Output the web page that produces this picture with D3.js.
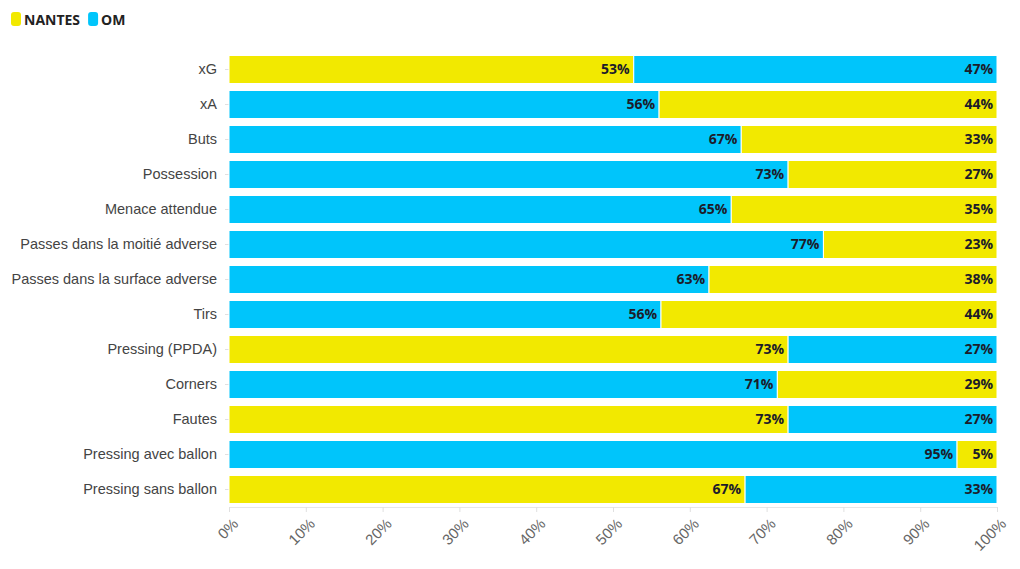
<!DOCTYPE html>
<html><head><meta charset="utf-8">
<script src="https://cdn.jsdelivr.net/npm/d3@7"></script>
<style>
body{margin:0;background:#fff;}
svg{display:block;font-family:"Open Sans","Noto Sans",sans-serif;}
</style></head>
<body><svg id="c" width="1020" height="569"></svg>
<script>
const categories = ["xG","xA","Buts","Possession","Menace attendue","Passes dans la moitié adverse","Passes dans la surface adverse","Tirs","Pressing (PPDA)","Corners","Fautes","Pressing avec ballon","Pressing sans ballon"];
const nantes = [52.7,44,33.3,27.2,34.6,22.6,37.5,43.75,72.8,28.6,72.8,5.2,67.2];
const om     = [47.3,56,66.7,72.8,65.4,77.4,62.5,56.25,27.2,71.4,27.2,94.8,32.8];
const teams = ["NANTES","OM"];
const ticks = [0,10,20,30,40,50,60,70,80,90,100];

const colors = {NANTES:"#f2e900", OM:"#00c5fb"};
const svg = d3.select("#c");
const x = d3.scaleLinear().domain([0,100]).range([229,997]);
const y = d3.scaleBand().domain(categories).range([52,507]).paddingInner(0.2).paddingOuter(0.1);

// axis baseline
svg.append("line").attr("x1",x(0)).attr("x2",x(100)).attr("y1",507.5).attr("y2",507.5).attr("stroke","#e6e6e6");
const xa = svg.append("g").attr("transform","translate(0,507)")
  .call(d3.axisBottom(x).tickValues(ticks).tickFormat(d=>d+"%").tickSize(5).tickSizeOuter(0));
xa.select(".domain").remove();
xa.selectAll(".tick line").attr("stroke","#e0e0e0");
xa.selectAll(".tick text").attr("fill","#666").style("font-size","15px")
  .attr("text-anchor","end").attr("x",0).attr("y",0).attr("dy","0.35em")
  .attr("transform","translate(6,14) rotate(-45)");

// y axis labels
const ya = svg.append("g").attr("transform","translate(229,0)")
  .call(d3.axisLeft(y).tickSize(4).tickPadding(8));
ya.select(".domain").remove();
ya.selectAll(".tick line").attr("stroke","#e0e0e0");
ya.selectAll(".tick text").attr("fill","#444").style("font-size","14.5px");

// bars
categories.forEach((c,i)=>{
  const vals = [{team:"NANTES",v:nantes[i]},{team:"OM",v:om[i]}];
  vals.sort((a,b)=>b.v-a.v);
  let acc = 0;
  vals.forEach(s=>{
    const x0 = x(acc), x1 = x(acc+s.v);
    svg.append("rect").attr("x",x0).attr("y",y(c)).attr("width",x1-x0).attr("height",y.bandwidth())
      .attr("fill",colors[s.team]).attr("stroke","#fff").attr("stroke-width",1);
    svg.append("text").attr("x",x1-4).attr("y",y(c)+y.bandwidth()/2).attr("dy","0.35em")
      .attr("text-anchor","end").attr("fill","#1c1c2a").style("font-size","14px").style("font-weight","700")
      .text(Math.round(s.v)+"%");
    acc += s.v;
  });
});

// legend
const lg = svg.append("g").attr("transform","translate(11,12)");
let lx = 0;
teams.forEach(t=>{
  lg.append("rect").attr("x",lx).attr("y",0).attr("width",10).attr("height",14).attr("rx",3).attr("fill",colors[t]);
  const tx = lg.append("text").attr("x",lx+13).attr("y",8).attr("dy","0.35em").attr("fill","#222")
    .style("font-size","14px").style("font-weight","700").text(t);
  lx += 13 + tx.node().getComputedTextLength() + 8;
});
</script></body></html>
